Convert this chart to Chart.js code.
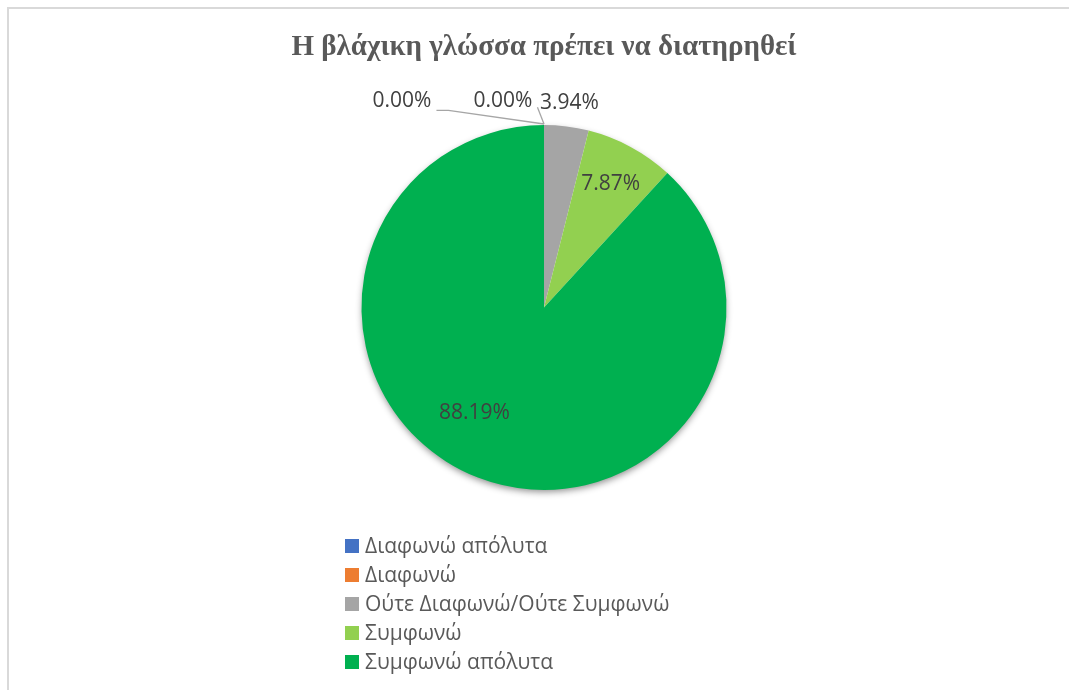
<!DOCTYPE html>
<html>
<head>
<meta charset="utf-8">
<script src="https://cdn.jsdelivr.net/npm/chart.js@4/dist/chart.umd.min.js"></script>
<style>
  html, body { margin: 0; padding: 0; background: #fff; overflow: hidden; }
  #wrap { position: relative; width: 1069px; height: 690px; }
  #frame { position: absolute; left: 7px; top: 7px; width: 1100px; height: 720px; border: 2px solid #d9d9d9; box-sizing: border-box; }
  canvas { position: absolute; left: 0; top: 0; }
</style>
</head>
<body>
<div id="wrap">
  <div id="frame"></div>
  <canvas id="pieChart" width="1069" height="690"></canvas>
</div>
<script>
// 資料
const chartTitle = 'Η βλάχικη γλώσσα πρέπει να διατηρηθεί';
const categories = ['Διαφωνώ απόλυτα', 'Διαφωνώ', 'Ούτε Διαφωνώ/Ούτε Συμφωνώ', 'Συμφωνώ', 'Συμφωνώ απόλυτα'];
const answers = [0, 0, 5, 10, 112]; // 0.00%, 0.00%, 3.94%, 7.87%, 88.19%
const sliceColors = ['#4472C4', '#ED7D31', '#A5A5A5', '#92D050', '#00B050'];

// 標籤位置: 半徑比例 + 微調 (px)
const labelPlace = [
  { rf: 1.13, dx: -142, dy: 0, leader: 'left' },
  { rf: 1.13, dx: -41, dy: 0, leader: 'right' },
  { rf: 1.13, dx: 0, dy: 0 },
  { rf: 0.77, dx: 0, dy: 0 },
  { rf: 0.69, dx: -24, dy: -12 }
];

const labelFont = '21px "Open Sans"';

// 陰影
const shadowPlugin = {
  id: 'pieShadow',
  beforeDatasetsDraw(chart) {
    const arc = chart.getDatasetMeta(0).data[0];
    if (!arc) return;
    const ctx = chart.ctx;
    ctx.save();
    ctx.shadowColor = 'rgba(0,0,0,0.45)';
    ctx.shadowBlur = 7;
    ctx.shadowOffsetX = 0;
    ctx.shadowOffsetY = 3;
    ctx.fillStyle = '#fff';
    ctx.beginPath();
    ctx.arc(arc.x, arc.y, arc.outerRadius - 1, 0, Math.PI * 2);
    ctx.fill();
    ctx.restore();
  }
};

// 百分比標籤
const labelPlugin = {
  id: 'pctLabels',
  afterDatasetsDraw(chart) {
    const ctx = chart.ctx;
    const meta = chart.getDatasetMeta(0);
    const total = answers.reduce((a, b) => a + b, 0);
    ctx.save();
    ctx.font = labelFont;
    ctx.textAlign = 'center';
    ctx.textBaseline = 'middle';
    meta.data.forEach((arc, i) => {
      const p = labelPlace[i];
      const mid = (arc.startAngle + arc.endAngle) / 2;
      const r = arc.outerRadius * p.rf;
      const x = arc.x + Math.cos(mid) * r + p.dx;
      const y = arc.y + Math.sin(mid) * r + p.dy;
      const text = (answers[i] / total * 100).toFixed(2) + '%';
      const w = ctx.measureText(text).width;
      // 引導線
      if (p.leader) {
        const ex = arc.x + Math.cos(mid) * arc.outerRadius;
        const ey = arc.y + Math.sin(mid) * arc.outerRadius;
        ctx.strokeStyle = '#a6a6a6';
        ctx.lineWidth = 1.3;
        ctx.beginPath();
        if (p.leader === 'left') {
          ctx.moveTo(x + w / 2 + 5, y + 9);
          ctx.lineTo(x + w / 2 + 17, y + 9);
        } else {
          ctx.moveTo(x + w / 2 + 5, y + 6);
        }
        ctx.lineTo(ex, ey - 1);
        ctx.stroke();
      }
      ctx.fillStyle = '#404040';
      ctx.fillText(text, x, y);
    });
    ctx.restore();
  }
};

// 圖例 (垂直排列)
const legendPlugin = {
  id: 'vertLegend',
  afterDraw(chart) {
    const ctx = chart.ctx;
    const left = 345, top = 546, step = 29, box = 14;
    ctx.save();
    ctx.font = '21px "Open Sans"';
    ctx.textBaseline = 'middle';
    ctx.textAlign = 'left';
    chart.data.labels.forEach((lab, i) => {
      const y = top + i * step;
      ctx.fillStyle = sliceColors[i];
      ctx.fillRect(left, y - box / 2, box, box);
      ctx.fillStyle = '#595959';
      ctx.fillText(lab, left + box + 6, y + 1);
    });
    ctx.restore();
  }
};

const ctx = document.getElementById('pieChart').getContext('2d');
new Chart(ctx, {
  type: 'pie',
  data: {
    labels: categories,
    datasets: [{
      data: answers,
      backgroundColor: sliceColors,
      borderWidth: 0
    }]
  },
  options: {
    responsive: false,
    animation: false,
    layout: { padding: { top: 20, bottom: 200, left: 19, right: 0 } },
    plugins: {
      legend: { display: false },
      tooltip: { enabled: false },
      title: {
        display: true,
        text: chartTitle,
        color: '#595959',
        font: { family: '"Liberation Serif", "Times New Roman", serif', size: 29, weight: 'bold', lineHeight: 1.2 },
        padding: { top: 10.6, bottom: 59.6 }
      }
    }
  },
  plugins: [shadowPlugin, labelPlugin, legendPlugin]
});
</script>
</body>
</html>
